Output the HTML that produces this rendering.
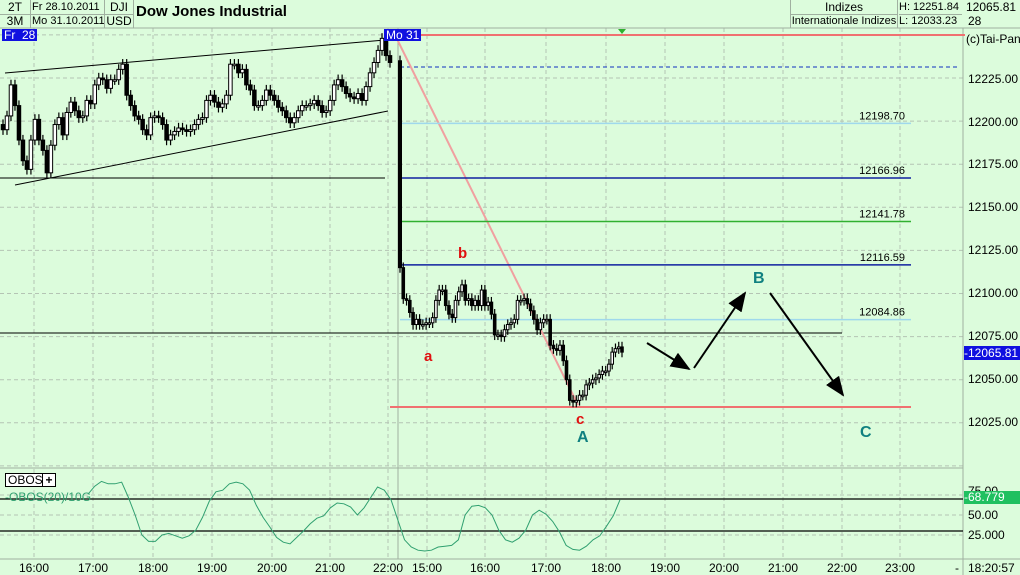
<!DOCTYPE html>
<html><head><meta charset="utf-8"><style>
body{margin:0;background:#dcfcdc;}
svg{display:block;font-family:"Liberation Sans",sans-serif;}
#ov div{white-space:nowrap;}
</style></head><body>
<svg id="c" width="1020" height="575" viewBox="0 0 1020 575" xmlns="http://www.w3.org/2000/svg">
<rect x="0" y="0" width="1020" height="575" fill="#dcfcdc"/>
<g id="grid"></g>
<g id="lines"></g>
<g id="candles"></g>
<g id="osc"></g>
<g id="labels"></g>
</svg>
<script>
const friCloses=[12195,12203,12221,12209,12189,12177,12172,12189,12201,12189,12183,12170,12186,12198,12202,12192,12205,12211,12206,12202,12203,12212,12210,12221,12225,12224,12219,12224,12224,12230,12233,12215,12209,12203,12201,12195,12192,12202,12203,12202,12198,12189,12192,12194,12196,12195,12194,12195,
12198,12201,12202,12212,12215,12211,12208,12210,12215,12233,12233,12228,12230,12221,12218,12209,12209,12212,12218,12215,12212,12208,12206,12202,12199,12202,12206,12209,12209,12210,12212,12209,12205,12206,12212,12221,12224,12220,12216,12214,12213,12216,12212,12220,12228,12234,12241,12248,12238,12234];
const monOpen=12235;
const monCloses=[12115,12097,12096,12089,12082,12085,12082,12082,12083,12083,12086,12096,12102,12102,12093,12088,12086,12096,12101,12105,12096,12097,12093,12096,12093,12102,12093,12095,12088,12076,12076,12075,12079,12082,12083,12085,12096,12096,12097,12094,12090,12085,12079,12083,12085,12085,12070,12068,12067,12070,12061,12050,12038,12037,12038,12041,12041,12047,12048,12050,12051,12053,12055,12055,12059,12066,12068,12069,12066];
const oboValues=[76,86,92,89,89,91,72,50,25,17,17,25,27,24,21,24,31,47,67,79,81,89,91,89,81,62,47,35,22,16,14,22,30,39,46,49,59,65,64,60,50,59,72,85,81,69,44,19,10,6,5,6,10,11,12,19,50,61,62,59,50,31,19,16,21,31,50,56,51,42,29,12,7,6,11,19,24,36,49,69];
const priceTicks=[12225,12200,12175,12150,12125,12100,12075,12050,12025];
const fibLevels=[12198.70,12166.96,12141.78,12116.59,12084.86];
const fibColors=["#9fd8ec","#1020a0","#30b030","#1020a0","#9fd8ec"];
const timeLabels=["16:00","17:00","18:00","19:00","20:00","21:00","22:00","15:00","16:00","17:00","18:00","19:00","20:00","21:00","22:00","23:00"];
const oscTicks=[50,25];

const NS="http://www.w3.org/2000/svg";
const y=v=>78+(12225-v)*1.724;
const oy=v=>555-v*0.8;
function mk(parent,tag,attrs,text){const e=document.createElementNS(NS,tag);for(const k in attrs)e.setAttribute(k,attrs[k]);if(text!==undefined)e.textContent=text;document.getElementById(parent).appendChild(e);return e;}

const gridX=[34,93,153,212,272,330,388,427,485,546,606,665,724,783,842,900];
for(const v of [12250,...priceTicks,12000]){const e=mk('grid','line',{x1:0,x2:963,y1:y(v),y2:y(v),stroke:'#b4c4b4','stroke-dasharray':'4,3'});

}
gridX.forEach((gx,i)=>{const e=mk('grid','line',{x1:gx,x2:gx,y1:28,y2:559,stroke:'#b4c4b4','stroke-dasharray':'4,3'});


const t=mk('labels','text',{x:gx,y:572,'font-size':12,'text-anchor':'middle',fill:'#000'},timeLabels[i]);

});
[[0,28,1020,28],[0,468,963,468],[0,559,1020,559],[963,28,963,575],[398,28,398,559]].forEach(a=>{const e=mk('grid','line',{x1:a[0],y1:a[1],x2:a[2],y2:a[3],stroke:'#a0b0a0','stroke-width':1});

});
for(const v of [75,...oscTicks]){const e=mk('grid','line',{x1:0,x2:963,y1:oy(v),y2:oy(v),stroke:'#b4c4b4','stroke-dasharray':'4,3'});

}

function ln(x1,y1,x2,y2,c,w,name,dash){const e=mk('lines','line',{x1,y1,x2,y2,stroke:c,'stroke-width':w||1});if(dash)e.setAttribute('stroke-dasharray',dash);

return e;}
ln(5,73,385,40,'#000',1,'channel-top');
ln(15,185,388,111,'#000',1,'channel-bottom');
ln(0,178,385,178,'#000',1,'support-line');
ln(0,333,842,333,'#000',1,'level-line');
ln(395,35,965,35,'#f07070',2,'high-line');
ln(400,67,959,67,'#1030c0',1,'dashed-level','4,3');
ln(390,407,911,407,'#f07070',2,'low-line');
ln(395,35,578,405,'#f0a0a0',2,'trend-diagonal');
fibLevels.forEach((v,i)=>{ln(400,y(v),911,y(v),fibColors[i],1.5,'fib-line');
const t=mk('labels','text',{x:905,y:y(v)-4,'font-size':11,'text-anchor':'end',fill:'#000'},v.toFixed(2));

});
mk('lines','polygon',{points:'618,29 626,29 622,34',fill:'#30b030'});
mk('lines','defs',{}).innerHTML='<marker id="ah" markerWidth="10" markerHeight="8" refX="9" refY="4" orient="auto"><path d="M0,0 L10,4 L0,8 z" fill="#000"/></marker>';
[[647,343,689,369],[694,368,745,293],[770,293,843,395]].forEach(a=>{const e=ln(a[0],a[1],a[2],a[3],'#000',2,'forecast-arrow');e.setAttribute('marker-end','url(#ah)');});

function candle(x,o,c,w){const hi=Math.max(o,c)+3,lo=Math.min(o,c)-3;
const wk=mk('candles','line',{x1:x,x2:x,y1:y(hi),y2:y(lo),stroke:'#000','stroke-width':1.2});


const top=y(Math.max(o,c)),h=Math.max(1.5,Math.abs(y(o)-y(c)));
const b=mk('candles','rect',{x:x-w/2,y:top,width:w,height:h,fill:c>=o?'#fff':'#000',stroke:'#000','stroke-width':1});

}
const fs=(390-3)/(friCloses.length-1);
friCloses.forEach((c,i)=>candle(3+i*fs,i?friCloses[i-1]:c+3,c,3.5));
candle(400,monOpen,monCloses[0],3);
const ms=(622-400)/(monCloses.length-1);
monCloses.forEach((c,i)=>{if(i)candle(400+i*ms,monCloses[i-1],c,2.6);});

ln(0,oy(70),963,oy(70),'#000',1.2,'obos-upper-line');
ln(0,oy(30),963,oy(30),'#000',1.2,'obos-lower-line');
const os=(620-88)/(oboValues.length-1);
const op=mk('osc','polyline',{points:oboValues.map((v,i)=>(88+i*os)+','+oy(v)).join(' '),fill:'none',stroke:'#30a070','stroke-width':1});


</script>
<div id="ov" style="position:absolute;left:0;top:0;width:1020px;height:575px;font-family:'Liberation Sans',sans-serif;font-size:12px;pointer-events:none">
<div style="position:absolute;left:0;top:0;width:30px;height:14px;border-right:1px solid #a0b0a0;border-bottom:1px solid #a0b0a0;text-align:center;line-height:14px">2T</div>
<div style="position:absolute;left:0;top:14px;width:30px;height:14px;border-right:1px solid #a0b0a0;text-align:center;line-height:14px">3M</div>
<div style="position:absolute;left:31px;top:0;width:72px;height:14px;border-right:1px solid #a0b0a0;border-bottom:1px solid #a0b0a0;line-height:14px;padding-left:1px;font-size:11px;overflow:hidden">Fr 28.10.2011</div>
<div style="position:absolute;left:31px;top:14px;width:72px;height:14px;border-right:1px solid #a0b0a0;line-height:14px;padding-left:1px;font-size:11px;overflow:hidden">Mo 31.10.2011</div>
<div style="position:absolute;left:105px;top:0;width:28px;height:14px;border-right:1px solid #a0b0a0;border-bottom:1px solid #a0b0a0;text-align:center;line-height:14px">DJI</div>
<div style="position:absolute;left:105px;top:14px;width:28px;height:14px;border-right:1px solid #a0b0a0;text-align:center;line-height:14px">USD</div>
<div style="position:absolute;left:136px;top:3px;font-size:15px;font-weight:bold">Dow Jones Industrial</div>
<div style="position:absolute;left:790px;top:0;width:106px;height:14px;border-left:1px solid #a0b0a0;border-right:1px solid #a0b0a0;border-bottom:1px solid #a0b0a0;text-align:center;line-height:14px">Indizes</div>
<div style="position:absolute;left:790px;top:14px;width:106px;height:14px;border-left:1px solid #a0b0a0;border-right:1px solid #a0b0a0;text-align:center;line-height:14px;font-size:11px;overflow:hidden">Internationale Indizes</div>
<div style="position:absolute;left:899px;top:0;width:63px;height:14px;border-bottom:1px solid #a0b0a0;line-height:14px;font-size:11px">H: 12251.84</div>
<div style="position:absolute;left:899px;top:14px;width:63px;height:14px;line-height:14px;font-size:11px">L: 12033.23</div>
<div style="position:absolute;left:966px;top:0;height:14px;line-height:14px">12065.81</div>
<div style="position:absolute;left:968px;top:14px;height:14px;line-height:14px">28</div>
<div style="position:absolute;left:2px;top:29px;background:#1010e0;color:#fff;padding:0 2px;line-height:12px">Fr&nbsp;&nbsp;28</div>
<div style="position:absolute;left:384px;top:29px;background:#1010e0;color:#fff;padding:0 2px;line-height:12px">Mo 31</div>
<div style="position:absolute;left:966px;top:32px">(c)Tai-Pan</div>
<div style="position:absolute;left:968px;top:72px">12225.00</div>
<div style="position:absolute;left:968px;top:115px">12200.00</div>
<div style="position:absolute;left:968px;top:157px">12175.00</div>
<div style="position:absolute;left:968px;top:200px">12150.00</div>
<div style="position:absolute;left:968px;top:243px">12125.00</div>
<div style="position:absolute;left:968px;top:286px">12100.00</div>
<div style="position:absolute;left:968px;top:329px">12075.00</div>
<div style="position:absolute;left:964px;top:346px;width:56px;background:#1010e0;color:#fff;line-height:14px">-12065.81</div>
<div style="position:absolute;left:968px;top:372px">12050.00</div>
<div style="position:absolute;left:968px;top:415px">12025.00</div>
<div style="position:absolute;left:424px;top:348px;color:#e01010;font-weight:bold;font-size:15px">a</div>
<div style="position:absolute;left:458px;top:245px;color:#e01010;font-weight:bold;font-size:15px">b</div>
<div style="position:absolute;left:576px;top:411px;color:#e01010;font-weight:bold;font-size:15px">c</div>
<div style="position:absolute;left:577px;top:429px;color:#108080;font-weight:bold;font-size:16px">A</div>
<div style="position:absolute;left:753px;top:270px;color:#108080;font-weight:bold;font-size:16px">B</div>
<div style="position:absolute;left:860px;top:424px;color:#108080;font-weight:bold;font-size:16px">C</div>
<div style="position:absolute;left:5px;top:473px;border:1px solid #000;background:#fff;line-height:12px;padding:0 2px">OBOS</div>
<div style="position:absolute;left:42px;top:473px;width:12px;height:12px;border:1px solid #000;background:#fff;line-height:12px;text-align:center;font-weight:bold">+</div>
<div style="position:absolute;left:5px;top:490px;color:#30a070">-OBOS(20)/10G</div>
<div style="position:absolute;left:968px;top:484px">75.00</div>
<div style="position:absolute;left:964px;top:491px;width:56px;background:#20c060;color:#fff;line-height:13px">-68.779</div>
<div style="position:absolute;left:968px;top:508px">50.00</div>
<div style="position:absolute;left:968px;top:528px">25.000</div>
<div style="position:absolute;left:968px;top:561px">18:20:57</div>
<div style="position:absolute;left:955px;top:561px">-</div>
</div>
</body></html>
